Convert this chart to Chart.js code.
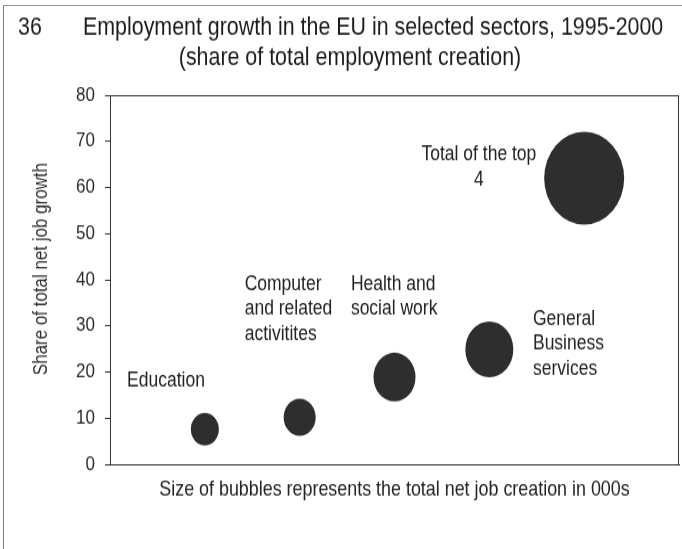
<!DOCTYPE html>
<html>
<head>
<meta charset="utf-8">
<script src="https://cdn.jsdelivr.net/npm/chart.js@4.4.1/dist/chart.umd.min.js"></script>
<style>
  html, body { margin: 0; padding: 0; background: #fff; overflow: hidden; }
  #marco { position: relative; width: 682px; height: 549px; overflow: hidden; background: #fff; }
  /* el grafico se dibuja mas bajo y se estira en vertical */
  #caja { position: absolute; left: 0; top: 0; width: 682px; height: 473px; transform: scaleY(1.1607); transform-origin: 0 0; }
  #borde { position: absolute; left: 3px; top: 5px; width: 700px; height: 560px; border-left: 1px solid #7a7a7a; border-top: 1px solid #9a9a9a; }
</style>
</head>
<body>
<div id="marco">
  <div id="borde"></div>
  <div id="caja"><canvas id="myChart"></canvas></div>
</div>
<script>
const sectores = ["Education", "Computer and related activitites", "Health and social work", "General Business services", "Total of the top 4"]
const posicionX = [1, 2, 3, 4, 5]
const cuotaEmpleo = [7.6, 10.2, 18.9, 24.9, 62]
const radioBurbuja = [14, 16, 21, 24, 40]
const ticksY = [0, 10, 20, 30, 40, 50, 60, 70, 80]

// textos junto a cada burbuja (punto de anclaje en unidades del grafico)
const etiquetas = [
  { lineas: ["Education"], x: 0.18, y: 18.0, alinear: "left" },
  { lineas: ["Computer", "and related", "activitites"], x: 1.42, y: 39.0, alinear: "left" },
  { lineas: ["Health and", "social work"], x: 2.54, y: 39.0, alinear: "left" },
  { lineas: ["General", "Business", "services"], x: 4.46, y: 31.5, alinear: "left" },
  { lineas: ["Total of the top", "4"], x: 3.89, y: 67.1, alinear: "center" }
]

const numeroGrafico = "36"
const titulo = "Employment growth in the EU in selected sectors, 1995-2000"
const subtitulo = "(share of total employment creation)"
const tituloY = "Share of total net job growth"
const tituloX = "Size of bubbles represents the total net job creation in 000s"

const fuente = "'Liberation Sans', Arial, sans-serif"

const puntos = posicionX.map((x, i) => ({ x: x, y: cuotaEmpleo[i], r: radioBurbuja[i] }))

const textosPlugin = {
  id: "textos",
  afterDraw(chart) {
    const ctx = chart.ctx
    const { left, top, right, bottom } = chart.chartArea
    ctx.save()
    // marco completo del area
    ctx.strokeStyle = "#333"
    ctx.lineWidth = 1
    ctx.strokeRect(left + 0.5, top + 0.5, right - left - 1, bottom - top)

    ctx.fillStyle = "#1c1c1c"
    ctx.textBaseline = "middle"
    ctx.font = "21.4px " + fuente
    ctx.textAlign = "left"
    ctx.fillText(numeroGrafico, 18, 24)
    ctx.fillText(titulo, 83, 24)
    ctx.textAlign = "center"
    ctx.fillText(subtitulo, 350, 50)

    // titulo del eje y, letra estrecha
    ctx.save()
    ctx.fillStyle = "#2c302e"
    ctx.font = "21px " + fuente
    ctx.translate(41, 231.8)
    ctx.rotate(-Math.PI / 2)
    ctx.scale(0.6956, 1)
    ctx.fillText(tituloY, 0, 0)
    ctx.restore()

    ctx.font = "17.5px " + fuente
    ctx.fillStyle = "#222"
    const sx = chart.scales.x
    const sy = chart.scales.y
    etiquetas.forEach(et => {
      ctx.textAlign = et.alinear
      const px = sx.getPixelForValue(et.x)
      const py = sy.getPixelForValue(et.y)
      et.lineas.forEach((l, i) => ctx.fillText(l, px, py + i * 21.5))
    })
    ctx.restore()
  }
}

const ctx = document.getElementById("myChart")
new Chart(ctx, {
  type: "bubble",
  data: {
    labels: sectores,
    datasets: [{
      label: "Net job creation",
      data: puntos,
      backgroundColor: "#2e2e2e",
      borderWidth: 0,
      hoverRadius: 0
    }]
  },
  options: {
    responsive: true,
    maintainAspectRatio: false,
    animation: false,
    events: [],
    layout: { autoPadding: false, padding: { left: 0, right: 3, top: 82, bottom: 0 } },
    plugins: {
      legend: { display: false },
      tooltip: { enabled: false }
    },
    scales: {
      x: {
        type: "linear",
        min: 0,
        max: 6,
        ticks: { display: false },
        grid: { display: false },
        border: { display: true, color: "#333", width: 1 },
        title: {
          display: true,
          text: tituloX,
          color: "#222",
          font: { family: fuente, size: 17.9 },
          padding: { top: 0, bottom: 40.5 }
        },
        afterFit: (eje) => { eje.height = 73 }
      },
      y: {
        min: 0,
        max: 80,
        afterBuildTicks: (eje) => { eje.ticks = ticksY.map(v => ({ value: v })) },
        ticks: {
          color: "#2a2a2a",
          padding: 10,
          font: { family: fuente, size: 17 }
        },
        grid: { drawOnChartArea: false, drawTicks: true, tickLength: 5, color: "#333" },
        border: { display: true, color: "#333", width: 1 },
        title: { display: false },
        afterFit: (eje) => { eje.width = 110 }
      }
    }
  },
  plugins: [textosPlugin]
})
</script>
</body>
</html>
